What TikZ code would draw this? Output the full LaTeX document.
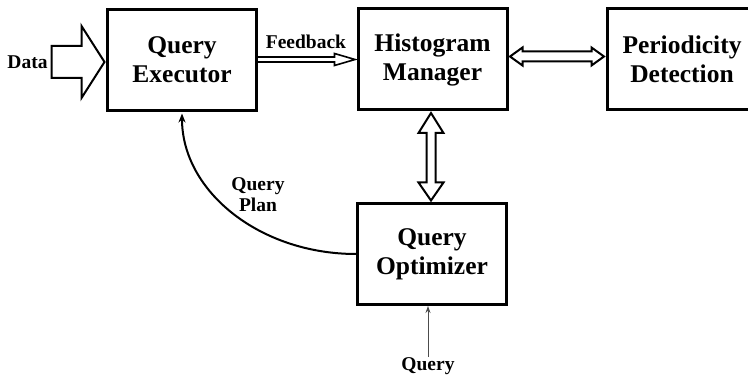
\documentclass[tikz,border=0pt]{standalone}
\usepackage{fontspec}
\setmainfont{Liberation Serif}
\usetikzlibrary{calc,arrows.meta}
\begin{document}
\begin{tikzpicture}[x=1pt,y=-1pt,
  box/.style={draw,line width=3pt,minimum width=149pt,minimum height=101pt,align=center,font=\fontsize{25.5}{29}\selectfont\bfseries,inner sep=0pt},
  lbl/.style={font=\fontsize{19.5}{21}\selectfont\bfseries,align=center,inner sep=0pt},
  blk/.style={draw,line width=2pt,fill=white,line join=miter},
  curv/.style={line width=2pt,-{Stealth[length=9pt,width=7pt]}},
  thin/.style={draw=black!70,line width=1pt,-{Stealth[length=7pt,width=5pt]}}]
\useasboundingbox (0,0) rectangle (748,377);
\clip (0,0) rectangle (748,377);
\node[box] (qe) at (182,60) {Query\\Executor};
\node[box] (hm) at (432.5,59.5) {Histogram\\Manager};
\node[box,minimum width=150pt] (pd) at (682,59) {Periodicity\\Detection};
\node[box] (qo) at (432,254) {Query\\Optimizer};
\node[lbl] (data) at (27.5,62) {Data};
\node[lbl] (fb) at (306,42) {Feedback};
\node[lbl] (qp) at (258,195) {Query\\Plan};
\node[lbl] (q) at (428,366) {Query};
\coordinate (dtip) at ($(qe.west)+(-1.5,2)$);
% Data block arrow
\draw[blk] let \p1=(dtip) in (\x1,\y1) -- (\x1-23pt,\y1+36pt) -- (\x1-23pt,\y1+16pt) -- (\x1-53pt,\y1+16pt) -- (\x1-53pt,\y1-16pt) -- (\x1-23pt,\y1-16pt) -- (\x1-23pt,\y1-36pt) -- cycle;
% Feedback arrow
\draw[blk,line width=1.6pt] let \p1=(qe.east), \p2=(hm.west) in (\x1,\y2+2.5pt) -- (\x2-22pt,\y2+2.5pt) -- (\x2-22pt,\y2+6pt) -- (\x2-1.5pt,\y2) -- (\x2-22pt,\y2-6pt) -- (\x2-22pt,\y2-2.5pt) -- (\x1,\y2-2.5pt);
% HM <-> PD
\draw[blk] let \p1=(hm.east), \p2=(pd.west) in (\x1+1.5pt,\y1+3pt) -- (\x1+14pt,\y1+12pt) -- (\x1+14pt,\y1+8pt) -- (\x2-14pt,\y1+8pt) -- (\x2-14pt,\y1+12pt) -- (\x2-1.5pt,\y1+3pt) -- (\x2-14pt,\y1-6pt) -- (\x2-14pt,\y1-2pt) -- (\x1+14pt,\y1-2pt) -- (\x1+14pt,\y1-6pt) -- cycle;
% HM <-> QO
\draw[blk] let \p1=(hm.south), \p2=(qo.north) in (\x1-1.5pt,\y1-1.5pt) -- (\x1+11pt,\y1-21.5pt) -- (\x1+3pt,\y1-21.5pt) -- (\x1+3pt,\y2+19.5pt) -- (\x1+11pt,\y2+19.5pt) -- (\x1-1.5pt,\y2+1.5pt) -- (\x1-14pt,\y2+19.5pt) -- (\x1-6pt,\y2+19.5pt) -- (\x1-6pt,\y1-21.5pt) -- (\x1-14pt,\y1-21.5pt) -- cycle;
% Query plan curve
\draw[curv] (qo.west) .. controls +(-96,0) and +(0,78) .. ($(qe.south)+(0,1.5)$);
% Query input
\draw[thin] (q.north) -- (q.north |- qo.south);
\end{tikzpicture}
\end{document}
